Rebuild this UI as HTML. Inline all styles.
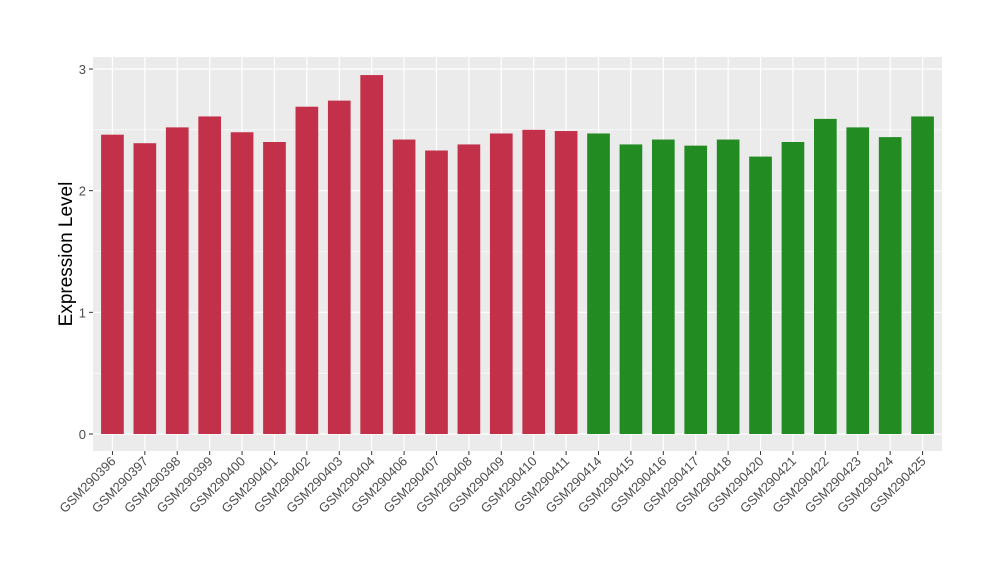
<!DOCTYPE html>
<html><head><meta charset="utf-8"><style>
body{margin:0;background:#fff;font-family:"Liberation Sans",sans-serif;}
</style></head><body>
<svg id="chart" width="1000" height="580" xmlns="http://www.w3.org/2000/svg">
<rect x="93" y="57" width="849" height="394" fill="#EBEBEB"/>
<g id="grid"></g><g id="bars"></g><g id="axes"></g>
<text transform="translate(72,254) rotate(-90)" text-anchor="middle" font-size="19" fill="#000">Expression Level</text>
</svg>
<script>
const categories=["GSM290396","GSM290397","GSM290398","GSM290399","GSM290400","GSM290401","GSM290402","GSM290403","GSM290404","GSM290406","GSM290407","GSM290408","GSM290409","GSM290410","GSM290411","GSM290414","GSM290415","GSM290416","GSM290417","GSM290418","GSM290420","GSM290421","GSM290422","GSM290423","GSM290424","GSM290425"];
const values=[2.46,2.39,2.52,2.61,2.48,2.40,2.69,2.74,2.95,2.42,2.33,2.38,2.47,2.50,2.49,2.47,2.38,2.42,2.37,2.42,2.28,2.40,2.59,2.52,2.44,2.61];
const groups=["a","a","a","a","a","a","a","a","a","a","a","a","a","a","a","b","b","b","b","b","b","b","b","b","b","b"];
const yTicks=[0,1,2,3];
const NS="http://www.w3.org/2000/svg";
const left=93,right=942,slot=(right-left)/(categories.length+0.2);
const xc=i=>left+slot*(0.6+i);
const y=v=>434-v*121.67;
const colors={a:"#C3304A",b:"#228B22"};
function mk(t,a,p){const e=document.createElementNS(NS,t);for(const k in a)e.setAttribute(k,a[k]);p.appendChild(e);return e;}
const grid=document.getElementById('grid'),bars=document.getElementById('bars'),axes=document.getElementById('axes');
for(let k=0;k<yTicks.length-1;k++){const l=mk('line',{x1:left,x2:right,y1:y(yTicks[k]+0.5),y2:y(yTicks[k]+0.5),stroke:"#fff","stroke-width":0.6},grid);

}
yTicks.forEach(t=>{const l=mk('line',{x1:left,x2:right,y1:y(t),y2:y(t),stroke:"#fff","stroke-width":1.2},grid);


const tk=mk('line',{x1:left-4,x2:left,y1:y(t),y2:y(t),stroke:"#333"},axes);


const tx=mk('text',{x:left-7,y:y(t)+5,"text-anchor":"end","font-size":13,fill:"#4D4D4D"},axes);
tx.textContent=t;

});
categories.forEach((c,i)=>{const l=mk('line',{x1:xc(i),x2:xc(i),y1:57,y2:451,stroke:"#fff","stroke-width":1.2},grid);


const w=slot*0.7;
const b=mk('rect',{x:xc(i)-w/2,y:y(values[i]),width:w,height:y(0)-y(values[i]),fill:colors[groups[i]]},bars);


const tk=mk('line',{x1:xc(i),x2:xc(i),y1:451,y2:455,stroke:"#333"},axes);


const tx=mk('text',{transform:`translate(${xc(i)+4},${462}) rotate(-45)`,"text-anchor":"end","font-size":13,fill:"#4D4D4D"},axes);
tx.textContent=c;

});
</script>
</body></html>
